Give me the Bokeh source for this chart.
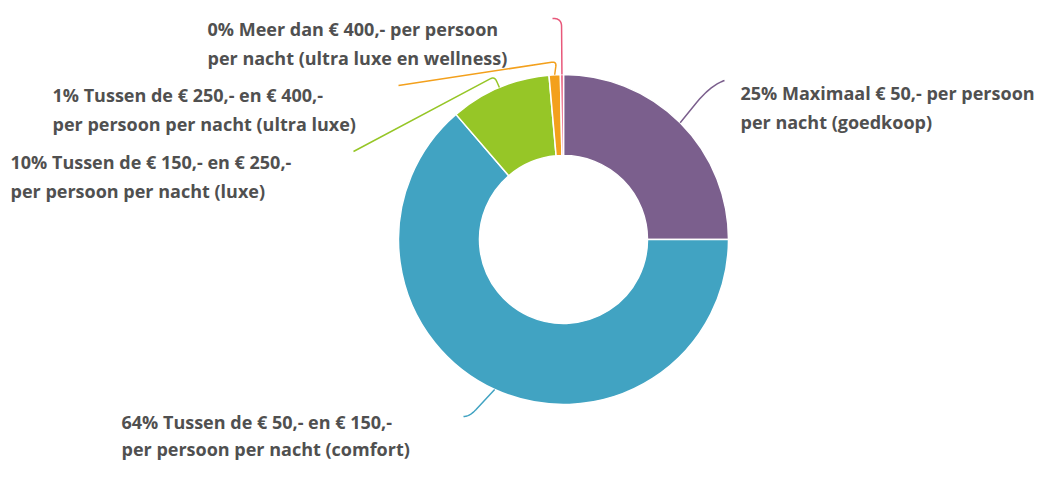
import numpy as np
from bokeh.plotting import figure
from bokeh.models import Range1d, ColumnDataSource
from bokeh.core.properties import value
from bokeh.embed import file_html
from bokeh.resources import INLINE

# ---- data ----
categories = [
    "Maximaal € 50,- per persoon per nacht (goedkoop)",
    "Tussen de € 50,- en € 150,- per persoon per nacht (comfort)",
    "Tussen de € 150,- en € 250,- per persoon per nacht (luxe)",
    "Tussen de € 250,- en € 400,- per persoon per nacht (ultra luxe)",
    "Meer dan € 400,- per persoon per nacht (ultra luxe en wellness)",
]
shares = [25.0, 63.7, 9.9, 1.1, 0.3]
pct_labels = ["25%", "64%", "10%", "1%", "0%"]
label_line1 = [
    "Maximaal € 50,- per persoon",
    "Tussen de € 50,- en € 150,-",
    "Tussen de € 150,- en € 250,-",
    "Tussen de € 250,- en € 400,-",
    "Meer dan € 400,- per persoon",
]
label_line2 = [
    "per nacht (goedkoop)",
    "per persoon per nacht (comfort)",
    "per persoon per nacht (luxe)",
    "per persoon per nacht (ultra luxe)",
    "per nacht (ultra luxe en wellness)",
]
colors = ["#7B5F8D", "#41A3C2", "#96C627", "#F3A01C", "#E8587A"]

# ---- layout (picture px, y down) ----
W, H = 1036, 464
def sy(y):
    return H - y

CX, CY = 563, 239
R_OUT, R_IN = 165, 84
# label first-line baseline positions and line gaps
lab_pos = [(740, 92), (121, 421), (10, 161), (52, 94), (207, 28)]
gaps = [29, 27, 29, 29, 29]
# connector knee, end and rounding radius
knees = [(469, 416), (469, 416), (494, 76), (556, 61), (561, 18)]
knees[0] = (710, 85)
ends = [(724, 80), (463, 416), (353, 151), (398, 85), (552, 18)]
rounds = [22, 9, 5, 5, 8]

p = figure(width=W, height=H, output_backend="svg", toolbar_location=None,
           x_range=Range1d(0, W), y_range=Range1d(0, H),
           min_border=0, outline_line_color=None,
           x_axis_location=None, y_axis_location=None)
p.grid.visible = False
p.background_fill_color = "white"
p.border_fill_color = "white"

vals = np.array(shares, dtype=float)
frac = vals / vals.sum()
cum = np.concatenate([[0], np.cumsum(frac)])
start = np.pi / 2 - 2 * np.pi * cum[:-1]
end = np.pi / 2 - 2 * np.pi * cum[1:]

src = ColumnDataSource(dict(start=start, end=end, color=colors, cat=categories))
p.annular_wedge(x=CX, y=sy(CY), inner_radius=R_IN, outer_radius=R_OUT,
                start_angle="start", end_angle="end", direction="clock",
                fill_color="color", line_color="white", line_width=1.5, source=src)

def rounded_path(A, K, E, r):
    A, K, E = map(lambda t: np.array(t, dtype=float), (A, K, E))
    dA = A - K; dE = E - K
    lA = np.linalg.norm(dA); lE = np.linalg.norm(dE)
    P1 = K + dA * min(r, lA) / lA
    P2 = K + dE * min(r, lE) / lE
    t = np.linspace(0, 1, 20)[:, None]
    q = (1 - t) ** 2 * P1 + 2 * (1 - t) * t * K + t ** 2 * P2
    pts = np.vstack([A, q, E])
    return pts[:, 0], pts[:, 1]

xs, ys = [], []
mid = 2 * np.pi * (cum[:-1] + cum[1:]) / 2
for i in range(len(shares)):
    ax = CX + R_OUT * np.sin(mid[i])
    ay = CY - R_OUT * np.cos(mid[i])
    px, py = rounded_path((ax, ay), knees[i], ends[i], rounds[i])
    xs.append(list(px)); ys.append([sy(v) for v in py])
p.multi_line(xs=xs, ys=ys, line_color=colors, line_width=1.5)

tx, ty, tt = [], [], []
for i in range(len(shares)):
    x0, y0 = lab_pos[i]
    tx += [x0, x0]
    ty += [sy(y0), sy(y0 + gaps[i])]
    tt += [pct_labels[i] + " " + label_line1[i], label_line2[i]]
p.text(x=tx, y=ty, text=tt, text_font=value("Open Sans"), text_font_style="bold",
       text_font_size="18px", text_color="#505050", text_baseline="alphabetic",
       text_align="left")

open("out.html", "w").write(file_html(p, INLINE))
